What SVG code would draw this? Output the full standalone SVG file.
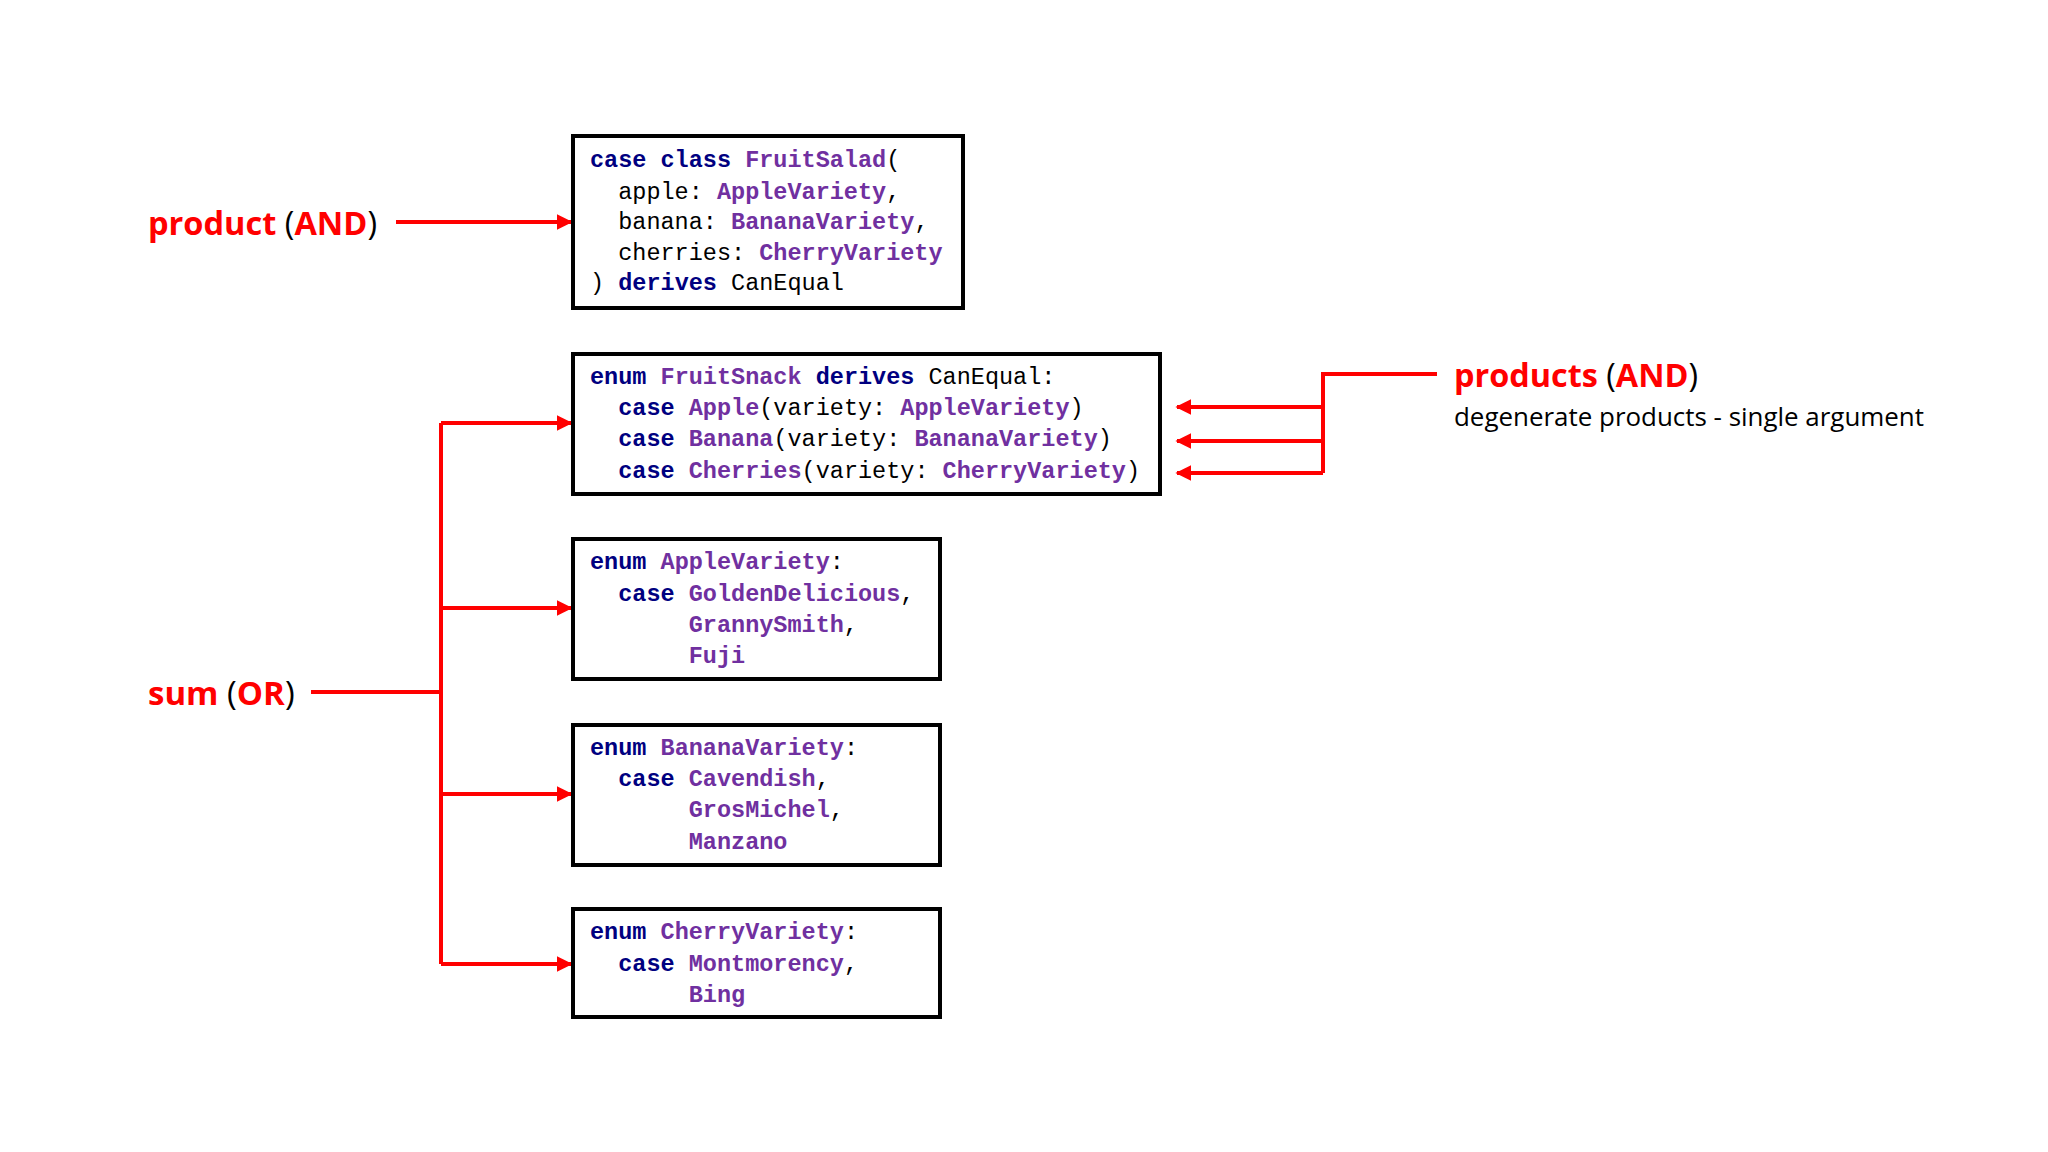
<svg xmlns="http://www.w3.org/2000/svg" width="2048" height="1152" viewBox="0 0 2048 1152">
<style>
.box{fill:#fff;stroke:#000;stroke-width:4}
.code{font-family:"Liberation Mono",monospace;font-size:23.5px;fill:#000;white-space:pre}
.k{fill:#000080;font-weight:bold}
.t{fill:#7030A0;font-weight:bold}
.lbl{font-family:"Open Sans","Liberation Sans",sans-serif;font-size:33px;font-weight:bold;fill:#f00}
.p{fill:#000;font-weight:normal}
.sub{font-family:"Open Sans","Liberation Sans",sans-serif;font-size:25px;fill:#000}
.c{fill:none;stroke:#f00;stroke-width:4}
</style>
<defs>
<marker id="ah" viewBox="0 0 10 10" refX="9" refY="5" markerWidth="4" markerHeight="4" orient="auto" markerUnits="strokeWidth">
<path d="M0,0 L10,5 L0,10 z" fill="#f00"/>
</marker>
</defs>
<rect width="2048" height="1152" fill="#fff"/>
<g id="connectors">
<path class="c" d="M396,222 H571" marker-end="url(#ah)"/>
<path class="c" d="M311,692 H441"/>
<path class="c" d="M441,423 V964"/>
<path class="c" d="M441,423 H571" marker-end="url(#ah)"/>
<path class="c" d="M441,608 H571" marker-end="url(#ah)"/>
<path class="c" d="M441,794 H571" marker-end="url(#ah)"/>
<path class="c" d="M441,964 H571" marker-end="url(#ah)"/>
<path class="c" d="M1437,374 H1323 V473"/>
<path class="c" d="M1323,407 H1177" marker-end="url(#ah)"/>
<path class="c" d="M1323,441 H1177" marker-end="url(#ah)"/>
<path class="c" d="M1323,473 H1177" marker-end="url(#ah)"/>
</g>
<g id="label-product"><text class="lbl" x="148" y="235" textLength="229" lengthAdjust="spacingAndGlyphs">product <tspan class="p">(</tspan>AND<tspan class="p">)</tspan></text></g>
<g id="label-sum"><text class="lbl" x="148" y="705">sum <tspan class="p">(</tspan>OR<tspan class="p">)</tspan></text></g>
<g id="label-products"><text class="lbl" x="1454" y="387" textLength="244" lengthAdjust="spacingAndGlyphs">products <tspan class="p">(</tspan>AND<tspan class="p">)</tspan></text>
<text class="sub" x="1454" y="426" textLength="470" lengthAdjust="spacingAndGlyphs">degenerate products - single argument</text></g>
<g id="FruitSalad">
<rect class="box" x="573" y="136" width="390" height="172"/>
<text class="code" x="590" y="167" xml:space="preserve"><tspan class="k">case class</tspan> <tspan class="t">FruitSalad</tspan>(</text>
<text class="code" x="590" y="199" xml:space="preserve">  apple: <tspan class="t">AppleVariety</tspan>,</text>
<text class="code" x="590" y="229" xml:space="preserve">  banana: <tspan class="t">BananaVariety</tspan>,</text>
<text class="code" x="590" y="260" xml:space="preserve">  cherries: <tspan class="t">CherryVariety</tspan></text>
<text class="code" x="590" y="290" xml:space="preserve">) <tspan class="k">derives</tspan> CanEqual</text>
</g>
<g id="FruitSnack">
<rect class="box" x="573" y="354" width="587" height="140"/>
<text class="code" x="590" y="384" xml:space="preserve"><tspan class="k">enum</tspan> <tspan class="t">FruitSnack</tspan> <tspan class="k">derives</tspan> CanEqual:</text>
<text class="code" x="590" y="415" xml:space="preserve">  <tspan class="k">case</tspan> <tspan class="t">Apple</tspan>(variety: <tspan class="t">AppleVariety</tspan>)</text>
<text class="code" x="590" y="446" xml:space="preserve">  <tspan class="k">case</tspan> <tspan class="t">Banana</tspan>(variety: <tspan class="t">BananaVariety</tspan>)</text>
<text class="code" x="590" y="478" xml:space="preserve">  <tspan class="k">case</tspan> <tspan class="t">Cherries</tspan>(variety: <tspan class="t">CherryVariety</tspan>)</text>
</g>
<g id="AppleVariety">
<rect class="box" x="573" y="539" width="367" height="140"/>
<text class="code" x="590" y="569" xml:space="preserve"><tspan class="k">enum</tspan> <tspan class="t">AppleVariety</tspan>:</text>
<text class="code" x="590" y="601" xml:space="preserve">  <tspan class="k">case</tspan> <tspan class="t">GoldenDelicious</tspan>,</text>
<text class="code" x="590" y="632" xml:space="preserve">       <tspan class="t">GrannySmith</tspan>,</text>
<text class="code" x="590" y="663" xml:space="preserve">       <tspan class="t">Fuji</tspan></text>
</g>
<g id="BananaVariety">
<rect class="box" x="573" y="725" width="367" height="140"/>
<text class="code" x="590" y="755" xml:space="preserve"><tspan class="k">enum</tspan> <tspan class="t">BananaVariety</tspan>:</text>
<text class="code" x="590" y="786" xml:space="preserve">  <tspan class="k">case</tspan> <tspan class="t">Cavendish</tspan>,</text>
<text class="code" x="590" y="817" xml:space="preserve">       <tspan class="t">GrosMichel</tspan>,</text>
<text class="code" x="590" y="849" xml:space="preserve">       <tspan class="t">Manzano</tspan></text>
</g>
<g id="CherryVariety">
<rect class="box" x="573" y="909" width="367" height="108"/>
<text class="code" x="590" y="939" xml:space="preserve"><tspan class="k">enum</tspan> <tspan class="t">CherryVariety</tspan>:</text>
<text class="code" x="590" y="971" xml:space="preserve">  <tspan class="k">case</tspan> <tspan class="t">Montmorency</tspan>,</text>
<text class="code" x="590" y="1002" xml:space="preserve">       <tspan class="t">Bing</tspan></text>
</g>
</svg>
